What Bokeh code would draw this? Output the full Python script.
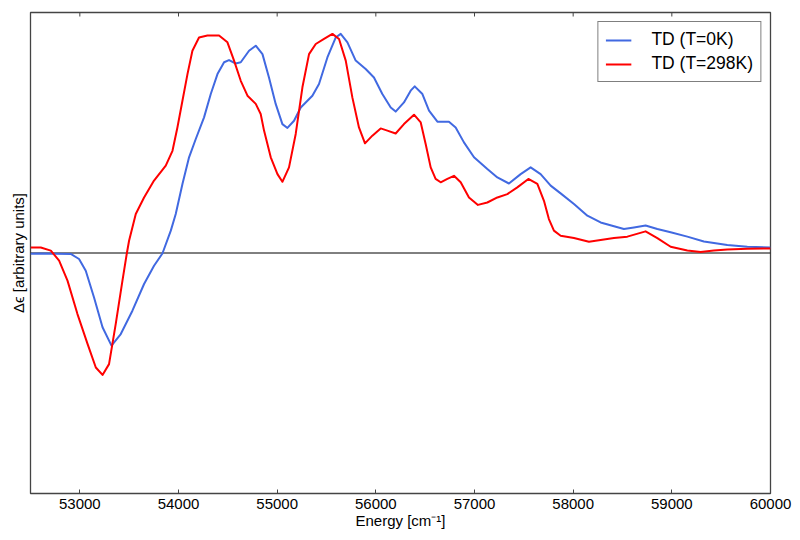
import math
from bokeh.plotting import figure
from bokeh.models import Range1d, Span, FixedTicker, BasicTickFormatter
from bokeh.embed import file_html
from bokeh.resources import INLINE

# ---- data (energy in cm^-1, delta-epsilon in arbitrary units) ----
energy_0k = [52500, 52604, 52908, 52992, 53060, 53144, 53230, 53321, 53415, 53533,
             53651, 53752, 53837, 53922, 53972, 54040, 54107, 54175, 54259, 54327,
             54395, 54462, 54512, 54580, 54631, 54715, 54783, 54851, 54917, 54985,
             55053, 55104, 55171, 55239, 55357, 55424, 55509, 55593, 55644, 55712,
             55796, 55897, 55981, 56066, 56151, 56201, 56285, 56353, 56394, 56472,
             56539, 56624, 56741, 56809, 56893, 56995, 57130, 57232, 57349, 57468,
             57569, 57670, 57772, 57873, 58008, 58144, 58278, 58514, 58616, 58734,
             58853, 58988, 59157, 59325, 59562, 59765, 60000]
signal_0k = [-0.003, -0.002, -0.004, -0.025, -0.074, -0.185, -0.309, -0.385, -0.337, -0.240,
             -0.129, -0.053, -0.002, 0.093, 0.162, 0.287, 0.398, 0.474, 0.564, 0.661,
             0.744, 0.793, 0.802, 0.788, 0.793, 0.841, 0.862, 0.827, 0.730, 0.620,
             0.536, 0.520, 0.550, 0.605, 0.654, 0.703, 0.813, 0.896, 0.911, 0.876,
             0.800, 0.765, 0.730, 0.661, 0.605, 0.588, 0.626, 0.675, 0.693, 0.661,
             0.592, 0.546, 0.546, 0.522, 0.460, 0.398, 0.349, 0.314, 0.289, 0.328,
             0.356, 0.328, 0.280, 0.248, 0.204, 0.155, 0.127, 0.100, 0.106, 0.114,
             0.100, 0.086, 0.068, 0.048, 0.033, 0.026, 0.023]

energy_298k = [52500, 52604, 52706, 52790, 52875, 52976, 53078, 53162, 53230, 53296,
               53364, 53432, 53476, 53499, 53567, 53651, 53752, 53871, 53939, 53989,
               54040, 54091, 54141, 54208, 54293, 54411, 54496, 54563, 54631, 54699,
               54783, 54833, 54867, 54935, 55003, 55053, 55120, 55188, 55256, 55323,
               55391, 55475, 55560, 55627, 55695, 55762, 55829, 55890, 55965, 56049,
               56117, 56201, 56285, 56387, 56455, 56505, 56556, 56606, 56657, 56725,
               56792, 56860, 56944, 57035, 57130, 57232, 57333, 57434, 57546, 57637,
               57704, 57754, 57805, 57873, 58008, 58160, 58278, 58413, 58549, 58734,
               58853, 58988, 59157, 59292, 59426, 59562, 59765, 60000]
signal_298k = [0.023, 0.023, 0.010, -0.032, -0.115, -0.254, -0.378, -0.476, -0.507, -0.462,
               -0.295, -0.115, -0.002, 0.051, 0.162, 0.231, 0.301, 0.363, 0.425, 0.522,
               0.633, 0.744, 0.841, 0.896, 0.904, 0.904, 0.876, 0.800, 0.716, 0.654,
               0.620, 0.578, 0.509, 0.398, 0.328, 0.296, 0.356, 0.495, 0.689, 0.827,
               0.869, 0.890, 0.911, 0.890, 0.800, 0.647, 0.522, 0.456, 0.488, 0.518,
               0.509, 0.497, 0.536, 0.575, 0.543, 0.453, 0.356, 0.308, 0.294, 0.308,
               0.321, 0.294, 0.231, 0.200, 0.210, 0.231, 0.245, 0.273, 0.308, 0.287,
               0.217, 0.141, 0.093, 0.072, 0.062, 0.047, 0.054, 0.062, 0.068, 0.090,
               0.062, 0.026, 0.010, 0.004, 0.010, 0.015, 0.018, 0.019]

x_ticks = [53000, 54000, 55000, 56000, 57000, 58000, 59000, 60000]
x_limits = (52500, 60000)
y_limits = (-1, 1)
series_labels = ["TD (T=0K)", "TD (T=298K)"]
x_label = "Energy [cm\u207b\u00b9]"
y_label = "\u0394\u03f5 [arbitrary units]"

FONT = "Liberation Sans"
FRAME = "#444444"

p = figure(width=800, height=540, output_backend="svg", toolbar_location=None,
           x_range=Range1d(*x_limits), y_range=Range1d(*y_limits),
           min_border_left=30, min_border_right=30, min_border_top=12, min_border_bottom=47)
p.background_fill_color = "white"
p.border_fill_color = "white"
p.xgrid.visible = False
p.ygrid.visible = False
p.outline_line_color = FRAME
p.outline_line_width = 1.3

zero = Span(location=0, dimension="width", line_color="black", line_width=1, level="underlay")
p.add_layout(zero)

p.line(energy_0k, signal_0k, line_color="#4169E1", line_width=2, line_join="round",
       legend_label=series_labels[0])
p.line(energy_298k, signal_298k, line_color="#FF0000", line_width=2, line_join="round",
       legend_label=series_labels[1])

# inward tick marks along the top edge, at the x tick positions
p.ray(x=x_ticks, y=[y_limits[1]] * len(x_ticks), length=4, length_units="screen",
      angle=-math.pi / 2, line_color=FRAME, line_width=1)

# bottom axis
xa = p.xaxis[0]
xa.ticker = FixedTicker(ticks=x_ticks)
xa.formatter = BasicTickFormatter(use_scientific=False)
xa.axis_line_color = None
xa.major_tick_in = 4
xa.major_tick_out = 0
xa.major_tick_line_color = FRAME
xa.minor_tick_line_color = None
xa.major_label_standoff = 5
xa.major_label_text_font = FONT
xa.major_label_text_font_size = "15px"
xa.major_label_text_color = "black"
xa.axis_label = x_label
xa.axis_label_text_font = FONT
xa.axis_label_text_font_size = "15px"
xa.axis_label_text_font_style = "normal"
xa.axis_label_text_color = "black"
xa.axis_label_standoff = 0

# left axis: label only
ya = p.yaxis[0]
ya.ticker = FixedTicker(ticks=[])
ya.axis_line_color = None
ya.major_tick_line_color = None
ya.minor_tick_line_color = None
ya.major_label_standoff = 0
ya.axis_label = y_label
ya.axis_label_text_font = FONT
ya.axis_label_text_font_size = "15px"
ya.axis_label_text_font_style = "normal"
ya.axis_label_text_color = "black"
ya.axis_label_standoff = 4

lg = p.legend[0]
lg.location = "top_right"
lg.margin = 9
lg.padding = 7
lg.spacing = 3
lg.glyph_width = 26
lg.glyph_height = 20
lg.label_height = 20
lg.label_standoff = 20
lg.label_text_font = FONT
lg.label_text_font_size = "17.5px"
lg.label_text_color = "black"
lg.border_line_color = "black"
lg.border_line_width = 1
lg.background_fill_color = "white"
lg.background_fill_alpha = 1

open("out.html", "w").write(file_html(p, INLINE))
